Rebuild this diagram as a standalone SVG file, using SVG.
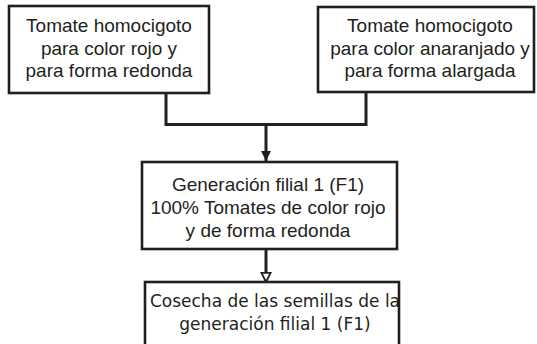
<svg xmlns="http://www.w3.org/2000/svg" width="537" height="344" viewBox="0 0 537 344">
<defs>
<style>
.box{fill:#fff;stroke:#231f20;stroke-width:2.6}
.t{font-family:"Liberation Sans",Arial,sans-serif;font-size:19px;fill:#231f20;text-anchor:middle}
.t2{font-family:"DejaVu Sans",Tahoma,sans-serif;font-size:17px;fill:#231f20;text-anchor:middle}
.c{fill:none;stroke:#231f20;stroke-width:3}
</style>
<marker id="solid" viewBox="0 0 10 10" refX="10" refY="5" markerWidth="10" markerHeight="10" markerUnits="userSpaceOnUse" orient="auto">
<path d="M0,0 L10,5 L0,10 Z" fill="#231f20"/>
</marker>
<marker id="hollow" viewBox="0 0 12 12" refX="11" refY="6" markerWidth="11" markerHeight="12" markerUnits="userSpaceOnUse" orient="auto">
<path d="M1,1 L11,6 L1,11 Z" fill="#fff" stroke="#231f20" stroke-width="2"/>
</marker>
</defs>
<rect width="537" height="344" fill="#fff"/>
<g id="connectors">
<polyline class="c" points="166,93 166,124.5 366,124.5 366,92"/>
<line class="c" x1="266" y1="124.5" x2="266" y2="161" marker-end="url(#solid)"/>
<line class="c" x1="266" y1="249" x2="266" y2="282" marker-end="url(#hollow)"/>
</g>
<g id="node1">
<rect class="box" x="9" y="6" width="200" height="87"/>
<text class="t" x="109" y="32">Tomate homocigoto</text>
<text class="t" x="109" y="55">para color rojo y</text>
<text class="t" x="109" y="77">para forma redonda</text>
</g>
<g id="node2">
<rect class="box" x="318" y="7" width="216" height="85"/>
<text class="t" x="430" y="32">Tomate homocigoto</text>
<text class="t" x="430" y="55">para color anaranjado y</text>
<text class="t" x="430" y="77">para forma alargada</text>
</g>
<g id="node3">
<rect class="box" x="142" y="162" width="255" height="87"/>
<text class="t" x="268" y="191">Generación filial 1 (F1)</text>
<text class="t" x="268" y="214">100% Tomates de color rojo</text>
<text class="t" x="268" y="237">y de forma redonda</text>
</g>
<g id="node4">
<rect class="box" x="145" y="282" width="254" height="70"/>
<text class="t2" x="275" y="307">Cosecha de las semillas de la</text>
<text class="t2" x="275" y="330">generación filial 1 (F1)</text>
</g>
</svg>
